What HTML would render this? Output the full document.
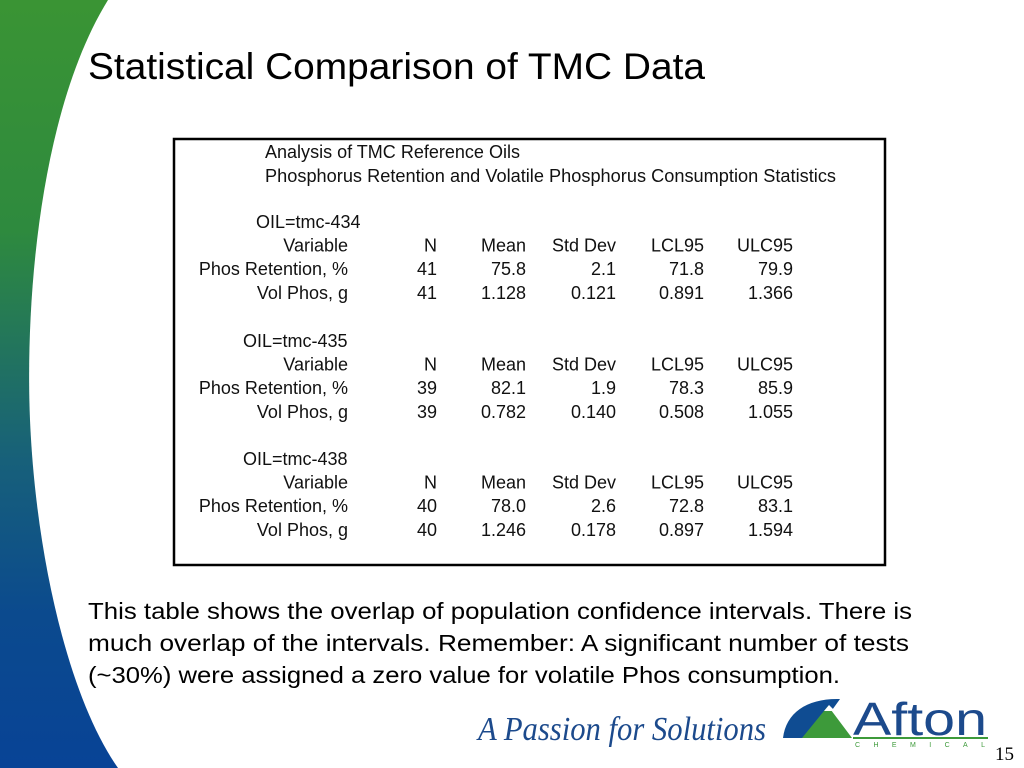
<!DOCTYPE html>
<html><head><meta charset="utf-8"><style>
html,body{margin:0;padding:0;background:#fff;}
svg{display:block;}
.s{font-family:"Liberation Sans",sans-serif;}
.r{font-family:"Liberation Serif",serif;}
</style></head><body>
<svg width="1024" height="768" viewBox="0 0 1024 768" xmlns="http://www.w3.org/2000/svg">
<defs>
<linearGradient id="g" x1="0" y1="0" x2="0" y2="1">
<stop offset="0" stop-color="#3a9434"/>
<stop offset="0.3" stop-color="#2e8a3e"/>
<stop offset="0.6" stop-color="#17607a"/>
<stop offset="0.8" stop-color="#0b4a8e"/>
<stop offset="1" stop-color="#084396"/>
</linearGradient>
</defs>
<rect x="0" y="0" width="160" height="768" fill="url(#g)"/>
<path d="M108,0 C40,110 25,300 30,420 C36,560 70,700 118,768 L1024,768 L1024,0 Z" fill="#fff"/>
<text class="s" x="88" y="79" font-size="37" textLength="617" lengthAdjust="spacingAndGlyphs" fill="#000">Statistical Comparison of TMC Data</text>
<rect x="174" y="139" width="711" height="426" fill="#fff" stroke="#000" stroke-width="2.5"/>
<g id="tbl" class="s" font-size="18" fill="#111"></g>
<text class="s" x="88" y="619" font-size="23" textLength="824" lengthAdjust="spacingAndGlyphs" fill="#000">This table shows the overlap of population confidence intervals.  There is</text>
<text class="s" x="88" y="651" font-size="23" textLength="821" lengthAdjust="spacingAndGlyphs" fill="#000">much overlap of the intervals.  Remember:  A significant number of tests</text>
<text class="s" x="88" y="683" font-size="23" textLength="752" lengthAdjust="spacingAndGlyphs" fill="#000">(~30%) were assigned a zero value for volatile Phos consumption.</text>
<text class="r" x="478" y="740" font-style="italic" font-size="34" textLength="288" lengthAdjust="spacingAndGlyphs" fill="#1c4a8c">A Passion for Solutions</text>
<g>
<path d="M783,738 C786,712 808,698 840,699 L812,738 Z" fill="#0f4c92"/>
<polygon points="802,738 828,706 852,738" fill="#3d9a3a"/>
<polygon points="824,711 829,705 835,711" fill="#fff"/>
<text class="s" x="853" y="735" font-size="46" fill="#1c4a8c" textLength="134" lengthAdjust="spacingAndGlyphs">Afton</text>
<rect x="853" y="737" width="135" height="2" fill="#3d9a3a"/>
<text class="s" x="855" y="747" font-size="7" fill="#3d9a3a" textLength="130" lengthAdjust="spacing">CHEMICAL</text>
</g>
<text class="r" x="1014" y="760" text-anchor="end" font-size="19" fill="#000">15</text>
</svg>
<script>
const colRight=[348,437,526,616,704,793];
const header=["Variable","N","Mean","Std Dev","LCL95","ULC95"];
const oils=["tmc-434","tmc-435","tmc-438"];
const phosRows=[["Phos Retention, %","41","75.8","2.1","71.8","79.9"],["Phos Retention, %","39","82.1","1.9","78.3","85.9"],["Phos Retention, %","40","78.0","2.6","72.8","83.1"]];
const volRows=[["Vol Phos, g","41","1.128","0.121","0.891","1.366"],["Vol Phos, g","39","0.782","0.140","0.508","1.055"],["Vol Phos, g","40","1.246","0.178","0.897","1.594"]];
const g=document.getElementById('tbl');
const NS="http://www.w3.org/2000/svg";
function t(x,y,s,anchor,name,len){const e=document.createElementNS(NS,'text');e.setAttribute('x',x);e.setAttribute('y',y);if(anchor)e.setAttribute('text-anchor',anchor);if(len){e.setAttribute('textLength',len);e.setAttribute('lengthAdjust','spacingAndGlyphs');}e.textContent=s;


g.appendChild(e);}
t(265,158,"Analysis of TMC Reference Oils",null,'table-title',255);
t(265,182,"Phosphorus Retention and Volatile Phosphorus Consumption Statistics",null,'table-subtitle',571);
const blockY=[228,347,465];
oils.forEach((o,i)=>{
 const y0=blockY[i];
 t(i===0?256:243,y0,"OIL="+o,null,'oil-label');
 [header,phosRows[i],volRows[i]].forEach((row,r)=>{
  row.forEach((c,k)=>t(colRight[k],y0+23.6*(r+1),c,'end','table-cell'));
 });
});
</script>
</body></html>
